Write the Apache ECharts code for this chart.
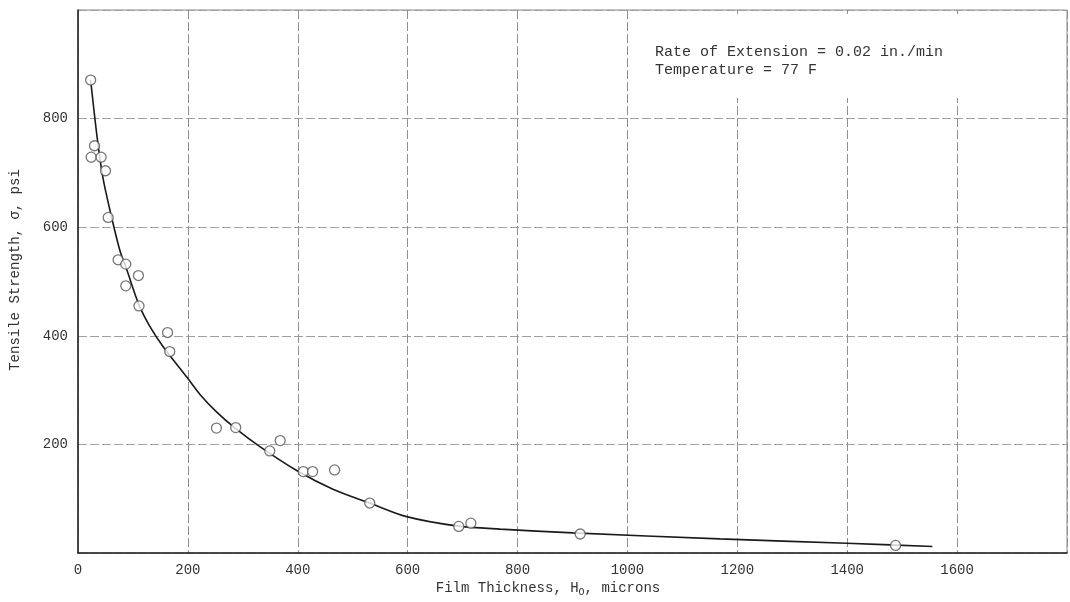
<!DOCTYPE html>
<html>
<head>
<meta charset="utf-8">
<script src="https://cdn.jsdelivr.net/npm/echarts@6/dist/echarts.min.js"></script>
<style>
html,body{margin:0;padding:0;background:#fff;}
#c{width:1070px;height:602px;}
</style>
</head>
<body>
<div id="c"></div>
<script>
// Measured data points: film thickness (microns) vs tensile strength (psi)
const thickness = [23, 30, 24, 42, 50, 55, 73, 87, 110, 87, 111, 163, 167, 252, 287, 349, 368, 410, 427, 467, 531, 693, 715, 914, 1488];
const strength  = [871, 750, 729, 729, 704, 618, 540, 532, 511, 492, 455, 406, 371, 230, 231, 188, 207, 150, 150, 153, 92, 49, 55, 35, 14];

// Faired curve through the data
const curveX = [23, 35, 45, 58, 76, 89, 111, 131, 155, 198, 222, 252, 286, 331, 398, 465, 531, 598, 689, 768, 901, 1168, 1399, 1555];
const curveY = [871, 764, 693, 632, 558, 521, 457, 417, 380, 324, 292, 260, 230, 196, 152, 117, 92, 67, 50, 44, 37, 26, 18, 12];

const xTicks = [0, 200, 400, 600, 800, 1000, 1200, 1400, 1600];
const yTicks = [200, 400, 600, 800];

const annotation = ['Rate of Extension = 0.02 in./min', 'Temperature = 77 F'];

const FONT = '"Liberation Mono", "DejaVu Sans Mono", monospace';

const chart = echarts.init(document.getElementById('c'), null, {renderer: 'canvas'});
chart.setOption({
  animation: false,
  backgroundColor: '#fff',
  grid: {left: 78, right: 3, top: 10, bottom: 49, show: true, borderColor: '#8a8a8a', borderWidth: 1},
  xAxis: {
    type: 'value', min: 0, max: 1800, interval: 200,
    axisLine: {show: true, onZero: false, lineStyle: {color: '#222', width: 1.5}},
    axisTick: {show: false},
    axisLabel: {
      margin: 10, color: '#333', fontFamily: FONT, fontSize: 14,
      formatter: v => xTicks.includes(v) ? String(v) : ''
    },
    splitLine: {show: true, lineStyle: {color: '#8f8f8f', width: 1, type: [9, 3]}}
  },
  yAxis: {
    type: 'value', min: 0, max: 1000, interval: 200,
    axisLine: {show: true, onZero: false, lineStyle: {color: '#222', width: 1.5}},
    axisTick: {show: false},
    axisLabel: {
      margin: 10, color: '#333', fontFamily: FONT, fontSize: 14,
      formatter: v => yTicks.includes(v) ? String(v) : ''
    },
    splitLine: {show: true, lineStyle: {color: '#a0a0a0', width: 1, type: [9, 3]}}
  },
  graphic: [
    {type: 'rect', shape: {x: 640, y: 14, width: 420, height: 84}, style: {fill: '#fff'}, z: 50},
    {type: 'text', x: 655, y: 52, z: 51, style: {text: annotation[0], fill: '#333', font: '15px ' + FONT, textVerticalAlign: 'middle'}},
    {type: 'text', x: 655, y: 70, z: 51, style: {text: annotation[1], fill: '#333', font: '15px ' + FONT, textVerticalAlign: 'middle'}},
    {type: 'text', x: 15, y: 270, rotation: Math.PI / 2, z: 51,
      style: {text: 'Tensile Strength, σ, psi', fill: '#333', font: '14px ' + FONT, textAlign: 'center', textVerticalAlign: 'middle'}},
    {type: 'text', x: 548, y: 588, z: 51,
      style: {
        text: 'Film Thickness, H{sub|O}, microns',
        fill: '#333', font: '14px ' + FONT, textAlign: 'center', textVerticalAlign: 'middle',
        rich: {sub: {fontFamily: FONT, fontSize: 10, fill: '#333', padding: [8, 0, 0, 0]}}
      }}
  ],
  series: [
    {
      type: 'line', data: curveX.map((x, i) => [x, curveY[i]]),
      smooth: 0.3, showSymbol: false, symbol: 'none',
      lineStyle: {color: '#1a1a1a', width: 1.6}, z: 3
    },
    {
      type: 'scatter', data: thickness.map((x, i) => [x, strength[i]]),
      symbol: 'circle', symbolSize: 10,
      itemStyle: {color: '#fff', borderColor: '#555', borderWidth: 1.3}, z: 5
    }
  ]
});
</script>
</body>
</html>
